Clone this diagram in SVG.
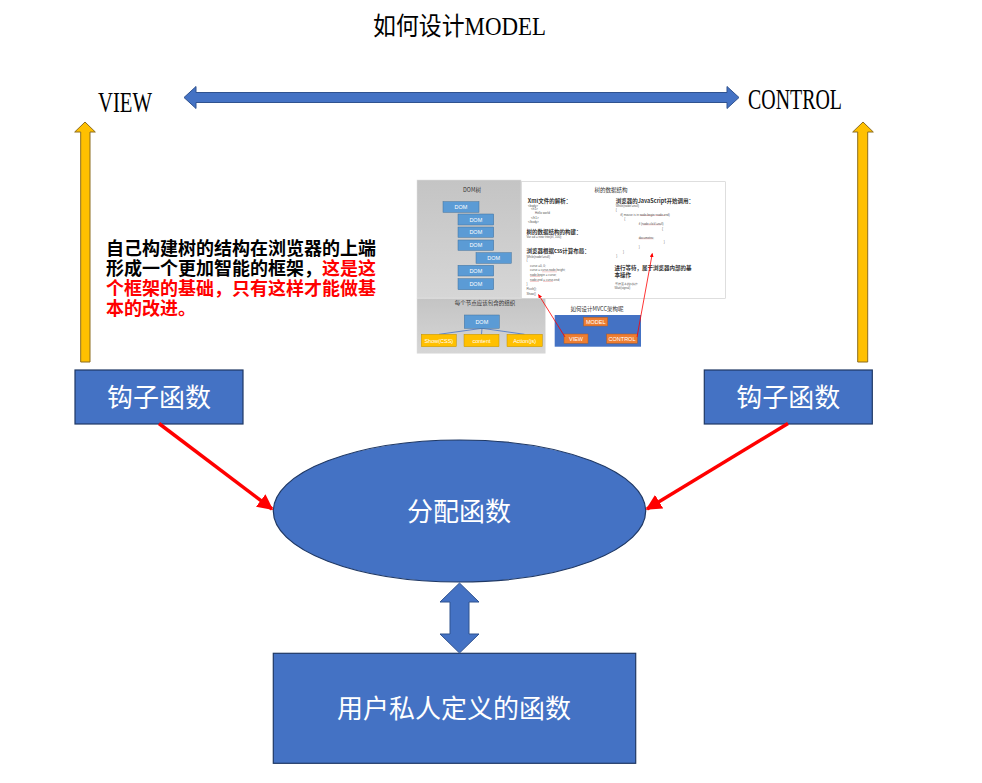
<svg xmlns="http://www.w3.org/2000/svg" width="982" height="783" viewBox="0 0 982 783">
<style>
.ser{font-family:"Liberation Serif","Noto Sans CJK SC",serif}
.box{fill:#4472C4;stroke:#1F3864;stroke-width:1.2}
.wt{fill:#fff;font-size:26px;text-anchor:middle;font-family:"Noto Sans CJK SC",sans-serif}
.note{font-size:18px;font-weight:bold;font-family:"Liberation Sans","Noto Sans CJK SC",sans-serif}
.red{fill:#FF0000}
.yarrow{fill:#FFC000;stroke:#8C6D1F;stroke-width:1}
.barrow{fill:#4472C4;stroke:#2F528F;stroke-width:1}
.rline{stroke:#FF0000;stroke-width:3.5;fill:none}
.t{font-family:"Noto Sans CJK SC","Liberation Sans",sans-serif;fill:#333}
.code{font-family:"Liberation Sans",sans-serif;font-size:3px;fill:#555}
.dom{fill:#5B9BD5;stroke:#41719C;stroke-width:0.5}
.domt{font-family:"Liberation Sans",sans-serif;font-size:5.5px;fill:#fff;text-anchor:middle}
.yb{fill:#FFC000;stroke:#BF9000;stroke-width:0.5}
.ybt{font-family:"Liberation Sans",sans-serif;font-size:5.5px;fill:#fff;text-anchor:middle}
.ob{fill:#ED7D31;stroke:#AE5A21;stroke-width:0.5}
</style>
<defs>
<marker id="ah" viewBox="0 0 10 10" refX="9" refY="5" markerWidth="4.5" markerHeight="4.5" orient="auto" markerUnits="strokeWidth">
<path d="M0,0 L10,5 L0,10 z" fill="#FF0000"/>
</marker>
<marker id="ahs" viewBox="0 0 10 10" refX="9" refY="5" markerWidth="5" markerHeight="5" orient="auto" markerUnits="strokeWidth">
<path d="M0,0 L10,5 L0,10 z" fill="#FF0000"/>
</marker>
<linearGradient id="gg" x1="0" y1="0" x2="0" y2="1">
<stop offset="0" stop-color="#c4c4c4"/>
<stop offset="1" stop-color="#d6d6d6"/>
</linearGradient>
</defs>
<rect width="982" height="783" fill="#fff"/>

<g id="title">
<text x="373" y="35" class="ser" font-size="25" textLength="173" lengthAdjust="spacingAndGlyphs" fill="#000">如何设计MODEL</text>
</g>
<g id="view-label">
<text x="98" y="112" class="ser" font-size="29" textLength="54" lengthAdjust="spacingAndGlyphs" fill="#000">VIEW</text>
</g>
<g id="control-label">
<text x="748" y="109" class="ser" font-size="29" textLength="94" lengthAdjust="spacingAndGlyphs" fill="#000">CONTROL</text>
</g>

<g id="note">
<text class="note" fill="#000"><tspan x="106" y="255">自己构建树的结构在浏览器的上端</tspan><tspan x="106" y="275">形成一个更加智能的框架，</tspan><tspan class="red">这是这</tspan><tspan class="red" x="106" y="295">个框架的基础，只有这样才能做基</tspan><tspan class="red" x="106" y="315">本的改进。</tspan></text>
</g>

<g id="screenshot">
<rect x="417" y="180" width="104" height="118" fill="url(#gg)" stroke="#e0e0e0" stroke-width="0.5"/>
<text x="472" y="192" class="t" font-size="5.5" text-anchor="middle">DOM树</text>
<rect class="dom" x="443" y="201.7" width="36" height="10.6"/><text class="domt" x="461" y="209">DOM</text>
<rect class="dom" x="458" y="214" width="35.7" height="11"/><text class="domt" x="475.8" y="221.5">DOM</text>
<rect class="dom" x="458" y="227" width="35.7" height="10.3"/><text class="domt" x="475.8" y="234.2">DOM</text>
<rect class="dom" x="458" y="240" width="35.7" height="10.3"/><text class="domt" x="475.8" y="247.2">DOM</text>
<rect class="dom" x="476" y="252.7" width="35.3" height="10.6"/><text class="domt" x="493.6" y="260">DOM</text>
<rect class="dom" x="458" y="265.3" width="35.7" height="10.7"/><text class="domt" x="475.8" y="272.6">DOM</text>
<rect class="dom" x="458" y="278.7" width="35.7" height="11"/><text class="domt" x="475.8" y="286.2">DOM</text>

<rect x="521.3" y="181.7" width="204" height="116.6" fill="#fff" stroke="#c8c8c8" stroke-width="0.6"/>
<text x="611" y="192" class="t" font-size="5.5" text-anchor="middle">树的数据结构</text>
<text x="527.7" y="202.5" class="t" font-size="5.5" font-weight="bold" fill="#000">Xml文件的解析：</text>
<text class="code"><tspan x="528" y="206.5">&lt;body&gt;</tspan><tspan x="531" y="210.3">&lt;h1&gt;</tspan><tspan x="535" y="214.3">Hello world</tspan><tspan x="531" y="218.5">&lt;/h1&gt;</tspan><tspan x="528" y="222.8">&lt;/body&gt;</tspan></text>
<text x="526.5" y="233.5" class="t" font-size="5.5" font-weight="bold" fill="#000">树的数据结构的构建：</text>
<text class="code" x="526.5" y="238">Var ad = new tree(el, 100);</text>
<text x="526.5" y="253" class="t" font-size="5.5" font-weight="bold" fill="#000">浏览器根据css计算布局：</text>
<text class="code"><tspan x="526.5" y="257.5">While(node!=null)</tspan><tspan x="526.5" y="261">{</tspan><tspan x="530" y="267">curse =0,  0;</tspan><tspan x="530" y="271.3">curse = curse.node.height;</tspan><tspan x="530" y="276">node.begin = curse;</tspan><tspan x="530" y="281">node.end = curse.end;</tspan><tspan x="526.5" y="285.3">}</tspan><tspan x="526.5" y="290.3">Flush();</tspan><tspan x="526.5" y="295">Show()</tspan></text>
<g stroke="#e06060" stroke-width="0.3">
<line x1="542" y1="271.8" x2="557" y2="271.8"/>
<line x1="530" y1="276.5" x2="540" y2="276.5"/>
<line x1="530" y1="281.5" x2="539" y2="281.5"/>
<line x1="543" y1="281.5" x2="553" y2="281.5"/>
<line x1="640" y1="215.5" x2="665" y2="215.5"/>
<line x1="643" y1="224.8" x2="661" y2="224.8"/>
<line x1="638.7" y1="238.8" x2="653" y2="238.8"/>
</g>
<text x="615.7" y="202.5" class="t" font-size="5.5" font-weight="bold" fill="#000">浏览器的JavaScript开始调用：</text>
<text class="code"><tspan x="615.7" y="206.5">While(node!=null)</tspan><tspan x="615.7" y="210.8">{</tspan><tspan x="620.3" y="215.8">if( mouse is in node.begin~node.end)</tspan><tspan x="624.3" y="220">{</tspan><tspan x="638.7" y="225">if (node.click!=null)</tspan><tspan x="662" y="229.8">{</tspan><tspan x="638.7" y="239">documetns;</tspan><tspan x="663.7" y="243.4">}</tspan><tspan x="638.7" y="248.4">}</tspan><tspan x="623" y="253">}</tspan><tspan x="616.3" y="257.4">}</tspan></text>
<text class="t" font-size="5.5" font-weight="bold" fill="#000"><tspan x="614.5" y="270">进行等待，属于浏览器内部的基</tspan><tspan x="614.5" y="277">本操作</tspan></text>
<text class="code"><tspan x="614.5" y="285">等待基本的js操作</tspan><tspan x="614.5" y="289">Wait(signal)</tspan></text>

<rect x="417" y="298.3" width="128.3" height="55" fill="url(#gg)" stroke="#e0e0e0" stroke-width="0.5"/>
<text x="485" y="305" class="t" font-size="5.5" text-anchor="middle">每个节点应该包含的组织</text>
<g stroke="#4472C4" stroke-width="0.8">
<line x1="482" y1="328.3" x2="439" y2="334.3"/>
<line x1="482" y1="328.3" x2="481.5" y2="334.3"/>
<line x1="482" y1="328.3" x2="524.5" y2="334.3"/>
</g>
<rect class="dom" x="464.3" y="315" width="35" height="13.3"/><text class="domt" x="481.8" y="323.6">DOM</text>
<rect class="yb" x="421.3" y="334.3" width="35" height="12.4"/><text class="ybt" x="438.8" y="342.5">Show(CSS)</text>
<rect class="yb" x="464" y="334.3" width="35" height="12.4"/><text class="ybt" x="481.5" y="342.5">content</text>
<rect class="yb" x="507" y="334.3" width="35.3" height="12.4"/><text class="ybt" x="524.6" y="342.5">Action(js)</text>

<text x="597" y="311" class="t" font-size="5.5" text-anchor="middle">如何设计MVCC架构呢</text>
<rect x="554.7" y="315" width="86.3" height="31.7" fill="#4472C4"/>
<rect class="ob" x="583.7" y="317.3" width="24" height="8.7"/><text class="ybt" x="595.7" y="323.6" font-size="5">MODEL</text>
<rect class="ob" x="564" y="334" width="24" height="9.3"/><text class="ybt" x="576" y="340.7" font-size="5">VIEW</text>
<rect class="ob" x="606.7" y="334" width="30.6" height="9.3"/><text class="ybt" x="622" y="340.7" font-size="5">CONTROL</text>
<line x1="565" y1="337" x2="538.5" y2="294.5" stroke="#FF0000" stroke-width="0.8" marker-end="url(#ahs)"/>
<line x1="637" y1="337" x2="652.3" y2="253.5" stroke="#FF0000" stroke-width="0.8" marker-end="url(#ahs)"/>
</g>

<g id="hook-left">
<rect class="box" x="75" y="370" width="168" height="54"/>
<text class="wt" x="159" y="407">钩子函数</text>
</g>
<g id="hook-right">
<rect class="box" x="704.3" y="370" width="168" height="54"/>
<text class="wt" x="788.3" y="407">钩子函数</text>
</g>
<g id="dispatch">
<ellipse class="box" cx="459.5" cy="511" rx="186.2" ry="71"/>
<text class="wt" x="459" y="521">分配函数</text>
</g>
<g id="user-functions">
<rect class="box" x="273.3" y="653.3" width="362.4" height="110"/>
<text class="wt" x="454" y="718">用户私人定义的函数</text>
</g>

<g id="connectors">
<path class="barrow" d="M184,97.5 L196,86.5 L196,92.5 L727,92.5 L727,86.5 L739,97.5 L727,108.5 L727,102.5 L196,102.5 L196,108.5 Z"/>
<path class="yarrow" d="M85,122 L95.3,132 L90,132 L90,362 L80.7,362 L80.7,132 L74.7,132 Z"/>
<path class="yarrow" d="M863,122 L873.3,132 L867.7,132 L867.7,362 L857.7,362 L857.7,132 L852.7,132 Z"/>
<line class="rline" x1="159" y1="423.5" x2="272" y2="509" marker-end="url(#ah)"/>
<line class="rline" x1="788" y1="423.5" x2="647" y2="509" marker-end="url(#ah)"/>
<path class="barrow" d="M459.5,583 L479,602 L469,602 L469,634 L479,634 L459.5,653 L440,634 L450,634 L450,602 L440,602 Z"/>
</g>
</svg>
